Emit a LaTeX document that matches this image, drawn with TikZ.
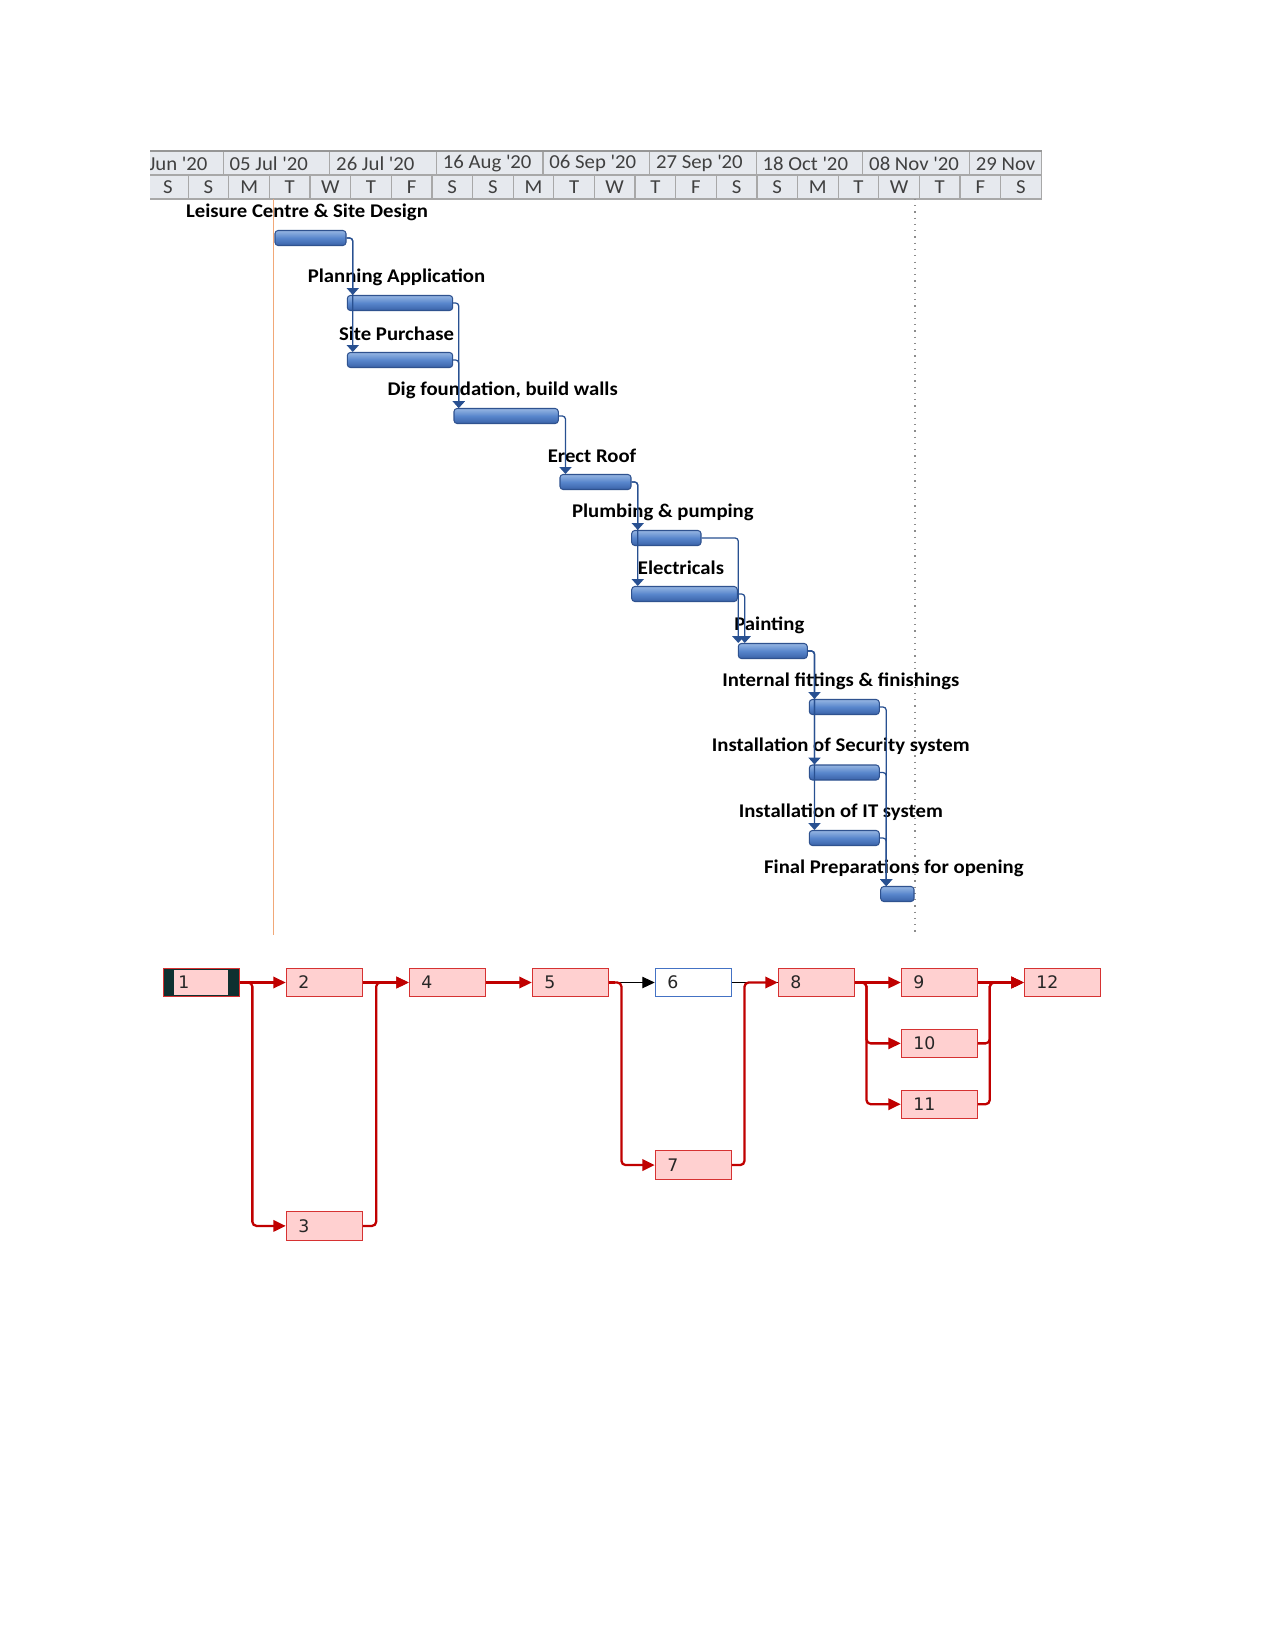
\documentclass[tikz,border=0pt]{standalone}
\usepackage{fontspec}
\setmainfont{Carlito}
\newfontfamily\lblfont{Carlito}[FakeStretch=1.07]
\newfontfamily\hdrfont{Carlito}[FakeStretch=1.05]
\newfontfamily\netfont{DejaVu Sans}
\usetikzlibrary{arrows.meta,calc}

\definecolor{hdrfill}{RGB}{230,233,238}
\definecolor{hdrline}{RGB}{168,168,168}
\definecolor{hdrtop}{RGB}{150,150,150}
\definecolor{hdrtext}{RGB}{64,64,64}
\definecolor{orangeln}{RGB}{241,168,120}
\definecolor{dotln}{RGB}{140,140,140}
\definecolor{bartop}{RGB}{150,182,226}
\definecolor{barmid}{RGB}{88,134,204}
\definecolor{barbot}{RGB}{58,98,168}
\definecolor{barline}{RGB}{47,82,143}
\definecolor{connblue}{RGB}{40,80,145}
\definecolor{critred}{RGB}{192,0,0}
\definecolor{boxfill}{RGB}{255,208,208}
\definecolor{boxline}{RGB}{214,50,50}
\definecolor{selblue}{RGB}{68,114,196}
\definecolor{seldark}{RGB}{14,48,48}

\newcommand\ganttbar[5]{%
  \node[gbar, minimum width={(#3-#2)*0.48pt}] (#1) at ({(#2+#3)/2},#4) {};
  \node[glabel] (#1l) at ({(#2+#3)/2-3.5},{#4-26}) {#5};
}

\begin{document}
\begin{tikzpicture}[x=0.48pt,y=-0.48pt,
  gbar/.style={rectangle, rounded corners=1.5pt, draw=barline, line width=0.5pt,
    top color=bartop, bottom color=barbot, middle color=barmid,
    minimum height=7.2pt, inner sep=0pt},
  glabel/.style={font=\lblfont\bfseries\fontsize{9.3}{11}\selectfont, text=black, inner sep=0pt},
  hdr/.style={font=\hdrfont\fontsize{9.5}{11}\selectfont, text=hdrtext, inner sep=0pt},
  conn/.style={draw=connblue, line width=0.6pt, rounded corners=1.5pt,
    -{Triangle[length=3.3pt,width=5.8pt]}},
  nbox/.style={rectangle, draw=boxline, fill=boxfill, line width=0.5pt,
    minimum height=13.6pt, text width=25pt, inner xsep=5.75pt, inner ysep=0pt,
    align=left, font=\netfont\fontsize{8.3}{9}\selectfont, text=black!85},
  crit/.style={draw=critred, line width=1.1pt, rounded corners=2pt,
    -{Triangle[length=6pt,width=5.5pt]}},
  crline/.style={draw=critred, line width=1.1pt, rounded corners=2pt},
  ncrit/.style={draw=black, line width=0.5pt, -{Triangle[length=6pt,width=5.5pt]}}
]
\useasboundingbox[fill=white] (0,0) rectangle (1275,1651);

% ---------- timescale header ----------
\fill[hdrfill] (150,151) rectangle (1041.7,199);
\begin{scope}
  \clip (150,151) rectangle (1041.7,199);
  \foreach \lab [count=\k from -1] in {14 Jun \textquotesingle 20, 05 Jul \textquotesingle 20,
      26 Jul \textquotesingle 20, 16 Aug \textquotesingle 20, 06 Sep \textquotesingle 20,
      27 Sep \textquotesingle 20, 18 Oct \textquotesingle 20, 08 Nov \textquotesingle 20,
      29 Nov \textquotesingle 20} {
    \node[hdr, anchor=west] (m\k) at ({223.2+106.6*\k+6},163.5) {\lab};
    \draw[hdrline, line width=0.6pt] ({223.2+106.6*\k},151) -- ({223.2+106.6*\k},175);
  }
  \foreach \d [count=\k from 0] in {S,S,M,T,W,T,F,S,S,M,T,W,T,F,S,S,M,T,W,T,F,S} {
    \node[hdr] (d\k) at ({167.9+40.62*\k},187.5) {\d};
  }
  \foreach \k in {0,...,20} {
    \draw[hdrline, line width=0.6pt] ({188.2+40.62*\k},175) -- ({188.2+40.62*\k},199);
  }
\end{scope}
\draw[hdrline, line width=0.6pt] (150,175) -- (1041.7,175);
\draw[hdrline, line width=0.6pt] (150,199) -- (1041.7,199) -- (1041.7,151);
\draw[hdrtop, line width=1.1pt] (150,151) -- (1041.7,151);

% ---------- current date / status lines ----------
\draw[orangeln, line width=0.6pt] (273.3,199) -- (273.3,935);
\draw[dotln, line width=0.6pt, dash pattern=on 0.6pt off 2.4pt] (915,199) -- (915,933);

% ---------- Gantt bars and labels ----------
\ganttbar{b1}{275}{346}{238}{Leisure Centre \& Site Design}
\ganttbar{b2}{347.3}{452.7}{303}{Planning Application}
\ganttbar{b3}{347.3}{452.7}{360}{Site Purchase}
\ganttbar{b4}{454}{558.3}{416}{Dig foundation, build walls}
\ganttbar{b5}{560}{631}{482}{Erect Roof}
\ganttbar{b6}{631.7}{701}{538}{Plumbing \& pumping}
\ganttbar{b7}{631.7}{737.3}{594}{Electricals}
\ganttbar{b8}{738.3}{807.3}{651}{Painting}
\ganttbar{b9}{809.3}{879.3}{707}{Internal fittings \& finishings}
\ganttbar{b10}{809.3}{879.3}{772.5}{Installation of Security system}
\ganttbar{b11}{809.3}{879.3}{838}{Installation of IT system}
\ganttbar{b12}{880.7}{914}{894}{Final Preparations for opening}

% ---------- Gantt links ----------
\draw[conn] (b1.east) -| ($(b2.north west)+(6,0)$);
\draw[conn] (b1.east) -| ($(b3.north west)+(6,0)$);
\draw[conn] (b2.east) -| ($(b4.north west)+(5.3,0)$);
\draw[conn] (b3.east) -| ($(b4.north west)+(5.3,0)$);
\draw[conn] (b4.east) -| ($(b5.north west)+(6,0)$);
\draw[conn] (b5.east) -| ($(b6.north west)+(6.6,0)$);
\draw[conn] (b5.east) -| ($(b7.north west)+(6.6,0)$);
\draw[conn] (b6.east) -| ($(b8.north west)+(0.5,0)$);
\draw[conn] (b7.east) -| ($(b8.north west)+(7,0)$);
\draw[conn] (b8.east) -| ($(b9.north west)+(5.7,0)$);
\draw[conn] (b8.east) -| ($(b10.north west)+(5.7,0)$);
\draw[conn] (b8.east) -| ($(b11.north west)+(5.7,0)$);
\draw[conn] (b9.east) -| ($(b12.north west)+(6,0)$);
\draw[conn] (b10.east) -| ($(b12.north west)+(6,0)$);
\draw[conn] (b11.east) -| ($(b12.north west)+(6,0)$);

% ---------- network diagram ----------
\node[nbox, fill=seldark, inner xsep=7.2pt, text width=22.1pt,
  path picture={\fill[boxfill] ([xshift=5.3pt,yshift=-1pt]path picture bounding box.north west)
    rectangle ([xshift=-5.3pt,yshift=1pt]path picture bounding box.south east);}]
  (n1) at (201.3,982.5) {1};
\node[nbox] (n2) at (324.3,982.5) {2};
\node[nbox] (n3) at (324.3,1225.9) {3};
\node[nbox] (n4) at (447.3,982.5) {4};
\node[nbox] (n5) at (570.3,982.5) {5};
\node[nbox, fill=white, draw=selblue] (n6) at (693.3,982.5) {6};
\node[nbox] (n7) at (693.3,1165.05) {7};
\node[nbox] (n8) at (816.3,982.5) {8};
\node[nbox] (n9) at (939.3,982.5) {9};
\node[nbox] (n10) at (939.3,1043.35) {10};
\node[nbox] (n11) at (939.3,1104.2) {11};
\node[nbox] (n12) at (1062.3,982.5) {12};

\draw[ncrit] (n5.east) -- (n6.west);
\draw[black, line width=0.5pt] (n6.east) -- (n8.west);

\draw[crit] (n1.east) -- (n2.west);
\draw[crit] (n1.east) -| ($(n3.west)+(-33.4,0)$) -- (n3.west);
\draw[crit] (n2.east) -- (n4.west);
\draw[crit] (n3.east) -| ($(n4.west)+(-32.6,0)$) -- (n4.west);
\draw[crit] (n4.east) -- (n5.west);
\draw[crline] (n5.east) -- ++(6,0);
\draw[crit] (n5.east) -| ($(n7.west)+(-33.3,0)$) -- (n7.west);
\draw[crit] (n7.east) -| ($(n8.west)+(-33.3,0)$) -- (n8.west);
\draw[crit] (n8.east) -- (n9.west);
\draw[crit] (n8.east) -| ($(n10.west)+(-34.3,0)$) -- (n10.west);
\draw[crit] (n8.east) -| ($(n11.west)+(-34.3,0)$) -- (n11.west);
\draw[crit] (n9.east) -- (n12.west);
\draw[crit] (n10.east) -| ($(n12.west)+(-34,0)$) -- (n12.west);
\draw[crit] (n11.east) -| ($(n12.west)+(-34,0)$) -- (n12.west);
\end{tikzpicture}
\end{document}
